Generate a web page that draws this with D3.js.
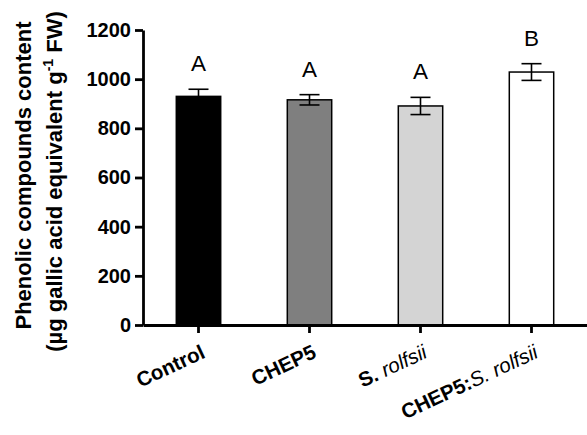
<!DOCTYPE html>
<html>
<head>
<meta charset="utf-8">
<script src="https://cdn.jsdelivr.net/npm/d3@7"></script>
<style>
  html, body { margin: 0; padding: 0; background: #fff; }
  svg { display: block; font-family: "Liberation Sans", Arial, sans-serif; }
</style>
</head>
<body>
<svg id="chart" width="587" height="435"></svg>
<script>
// Treatments, means and standard errors (µg gallic acid equivalent per g FW)
const categories = ["Control", "CHEP5", "S. rolfsii", "CHEP5:S. rolfsii"];
const means = [930, 916, 891, 1029];
const errors = [29, 21, 35, 34];
const groupLetters = ["A", "A", "A", "B"];
const barFills = ["#000000", "#7f7f7f", "#d4d4d4", "#ffffff"];
const yTicks = [0, 200, 400, 600, 800, 1000, 1200];

// Rich text pieces for the category labels
const labelParts = [
  [{ t: "Control", w: "bold" }],
  [{ t: "CHEP5", w: "bold" }],
  [{ t: "S.", w: "bold" }, { t: " rolfsii", w: "normal", s: "italic" }],
  [{ t: "CHEP5:", w: "bold" }, { t: "S. rolfsii", w: "normal", s: "italic" }]
];

const svg = d3.select("#chart");
const plotLeft = 143, plotRight = 587, plotTop = 30, plotBottom = 325;

const x = d3.scaleBand()
  .domain(categories)
  .range([plotLeft, plotRight])
  .paddingInner(0.6)
  .paddingOuter(0.3);

const y = d3.scaleLinear()
  .domain([0, 1200])
  .range([plotBottom, plotTop]);

// Bars
svg.append("g").selectAll("rect")
  .data(categories)
  .join("rect")
  .attr("x", d => x(d))
  .attr("y", (d, i) => y(means[i]))
  .attr("width", x.bandwidth())
  .attr("height", (d, i) => y(0) - y(means[i]))
  .attr("fill", (d, i) => barFills[i])
  .attr("stroke", "#000")
  .attr("stroke-width", 1.5);

// Error bars
const capHalf = 10;
const eb = svg.append("g").attr("stroke", "#000").attr("stroke-width", 1.6).attr("fill", "none");
categories.forEach((c, i) => {
  const cx = x(c) + x.bandwidth() / 2;
  const hi = y(means[i] + errors[i]);
  const lo = y(means[i] - errors[i]);
  eb.append("line").attr("x1", cx).attr("x2", cx).attr("y1", hi).attr("y2", lo);
  eb.append("line").attr("x1", cx - capHalf).attr("x2", cx + capHalf).attr("y1", hi).attr("y2", hi);
  eb.append("line").attr("x1", cx - capHalf).attr("x2", cx + capHalf).attr("y1", lo).attr("y2", lo);
});

// Significance letters
svg.append("g").selectAll("text")
  .data(categories)
  .join("text")
  .attr("x", d => x(d) + x.bandwidth() / 2)
  .attr("y", (d, i) => y(means[i] + errors[i]) - 18)
  .attr("text-anchor", "middle")
  .attr("font-size", 22.5)
  .attr("fill", "#000")
  .text((d, i) => groupLetters[i]);

// Y axis
const yAxis = svg.append("g")
  .attr("transform", `translate(${plotLeft},0)`)
  .call(d3.axisLeft(y).tickValues(yTicks).tickFormat(d3.format("d")).tickSize(8).tickPadding(4).tickSizeOuter(0));
yAxis.select(".domain").attr("stroke-width", 2.8);
yAxis.selectAll(".tick line").attr("stroke-width", 2.8);
yAxis.selectAll(".tick text")
  .attr("font-family", "'Liberation Sans', Arial, sans-serif")
  .attr("font-size", 20)
  .attr("font-weight", "bold")
  .attr("fill", "#000");

// X axis
const xAxis = svg.append("g")
  .attr("transform", `translate(0,${plotBottom})`)
  .call(d3.axisBottom(x).tickSize(8).tickSizeOuter(0).tickFormat(""));
xAxis.select(".domain").attr("stroke-width", 2.8);
xAxis.selectAll(".tick line").attr("stroke-width", 2.8);
xAxis.selectAll(".tick text").remove();

// Rotated category labels
const xl = svg.append("g").attr("font-size", 20.5).attr("fill", "#000");
categories.forEach((c, i) => {
  const cx = x(c) + x.bandwidth() / 2;
  const t = xl.append("text")
    .attr("text-anchor", "end")
    .attr("transform", `translate(${cx + 8},${plotBottom + 32}) rotate(-25)`);
  labelParts[i].forEach(p => {
    t.append("tspan")
      .attr("font-weight", p.w)
      .attr("font-style", p.s || "normal")
      .text(p.t);
  });
});

// Y axis title (two lines)
const midY = (plotTop + plotBottom) / 2;
const title = svg.append("g")
  .attr("font-size", 22)
  .attr("font-weight", "bold")
  .attr("fill", "#000")
  .attr("text-anchor", "middle");
title.append("text")
  .attr("transform", `translate(31,${midY - 2}) rotate(-90)`)
  .text("Phenolic compounds content");
const t2 = title.append("text")
  .attr("transform", `translate(62,${midY + 4}) rotate(-90)`);
t2.append("tspan").text("(\u00b5g gallic acid equivalent g");
t2.append("tspan").attr("font-size", 14).attr("dy", -9).text("-1");
t2.append("tspan").attr("dy", 9).text(" FW)");
</script>
</body>
</html>
